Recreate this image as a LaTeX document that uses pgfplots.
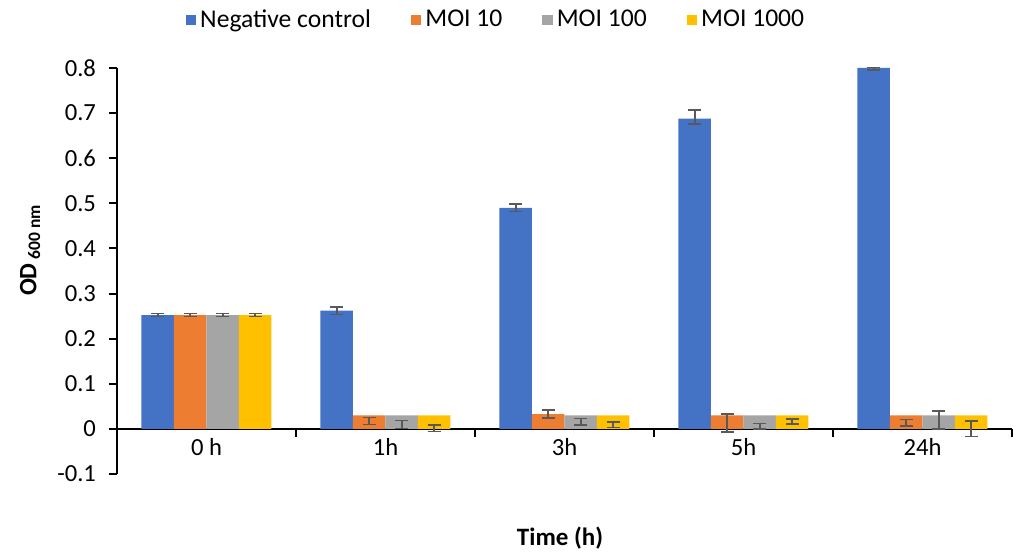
\documentclass[border=0pt]{standalone}
\usepackage{fontspec}
\setmainfont{Carlito}
\usepackage{pgfplots}
\pgfplotsset{compat=1.18}
\usepackage{pgfplotstable}
\definecolor{cneg}{HTML}{4472C4}
\definecolor{cten}{HTML}{ED7D31}
\definecolor{chun}{HTML}{A5A5A5}
\definecolor{ctho}{HTML}{FFC000}
\definecolor{errc}{HTML}{595959}
% x = time point index, y = bar height, c = error bar centre, e = half range
\pgfplotstableread{
x y c e
0 0.252 0.2525 0.003
1 0.262 0.2620 0.008
2 0.490 0.4900 0.008
3 0.688 0.6915 0.0155
4 0.800 0.7980 0.003
}\negc
\pgfplotstableread{
x y c e
0 0.252 0.2525 0.003
1 0.030 0.0175 0.0075
2 0.033 0.0330 0.009
3 0.030 0.0130 0.020
4 0.030 0.0135 0.007
}\moiten
\pgfplotstableread{
x y c e
0 0.252 0.2525 0.003
1 0.030 0.0100 0.009
2 0.030 0.0160 0.007
3 0.030 0.0060 0.006
4 0.030 0.0200 0.020
}\moihun
\pgfplotstableread{
x y c e
0 0.252 0.2525 0.003
1 0.030 0.0015 0.0075
2 0.030 0.0090 0.006
3 0.030 0.0165 0.005
4 0.030 0.0005 0.0175
}\moitho
\begin{document}
\begin{tikzpicture}
\begin{axis}[
  name=ax,
  scale only axis,
  width=447.5pt, height=203pt,
  xmin=-0.5, xmax=4.5,
  ymin=-0.1, ymax=0.8,
  axis y line=left,
  axis x line=middle,
  axis line style={-, line width=1pt, black},
  hide obscured x ticks=false,
  hide obscured y ticks=false,
  tick align=outside,
  major tick length=4pt,
  tick style={line width=1pt, black},
  xtick={-0.5,0.5,1.5,2.5,3.5,4.5},
  xticklabels={},
  extra x ticks={0,1,2,3,4},
  extra x tick labels={0 h,1h,3h,5h,24h},
  extra x tick style={major tick length=0pt, tick label style={yshift=-1pt}},
  ytick={-0.1,0,0.1,0.2,0.3,0.4,0.5,0.6,0.7,0.8},
  yticklabels={-0.1,0,0.1,0.2,0.3,0.4,0.5,0.6,0.7,0.8},
  tick label style={font=\fontsize{12.3}{14}\selectfont},
  yticklabel style={xshift=-3pt},
  ylabel={\textbf{OD}\,\textsubscript{\bfseries 600 nm}},
  ylabel style={at={(axis description cs:-0.097,0.552)}, anchor=center, rotate=0, font=\fontsize{12.5}{15}\selectfont},
  xlabel={\textbf{Time (h)}},
  xlabel style={at={(axis description cs:0.495,-0.158)}, anchor=center, font=\fontsize{12.5}{15}\selectfont},
  legend columns=4,
  legend style={at={(axis description cs:0.4246,1.118)}, anchor=center, draw=none, fill=none,
    font=\fontsize{12.8}{15}\selectfont,
    /tikz/every even column/.append style={column sep=18pt}},
  legend image code/.code={\fill[#1] (0pt,-2.6pt) rectangle (5.2pt,2.6pt);},
]
\addplot[ybar, bar width=16.25pt, bar shift=-24.375pt, draw=none, fill=cneg] table[x=x,y=y]{\negc};
\addplot[ybar, bar width=16.25pt, bar shift=-8.125pt, draw=none, fill=cten] table[x=x,y=y]{\moiten};
\addplot[ybar, bar width=16.25pt, bar shift=8.125pt, draw=none, fill=chun] table[x=x,y=y]{\moihun};
\addplot[ybar, bar width=16.25pt, bar shift=24.375pt, draw=none, fill=ctho] table[x=x,y=y]{\moitho};
\legend{Negative control, MOI 10, MOI 100, MOI 1000}
\pgfplotsset{errstyle/.style={mark=none, draw=none, forget plot,
  error bars/y dir=both, error bars/y explicit, error bars/error mark=|,
  error bars/error bar style={solid, draw=errc, line width=0.8pt},
  error bars/error mark options={solid, draw=errc, line width=0.8pt, mark size=3.2pt}}}
% error bars placed at the centre of each bar (bar width = 0.18156 axis units)
\addplot[errstyle] table[x expr=\thisrow{x}-0.27235, y=c, y error=e]{\negc};
\addplot[errstyle] table[x expr=\thisrow{x}-0.09078, y=c, y error=e]{\moiten};
\addplot[errstyle] table[x expr=\thisrow{x}+0.09078, y=c, y error=e]{\moihun};
\addplot[errstyle] table[x expr=\thisrow{x}+0.27235, y=c, y error=e]{\moitho};
\end{axis}
\pgfresetboundingbox
\path (ax.south west) ++(-58.5pt,-39pt) rectangle ++(506.5pt,276pt);
\end{tikzpicture}
\end{document}
